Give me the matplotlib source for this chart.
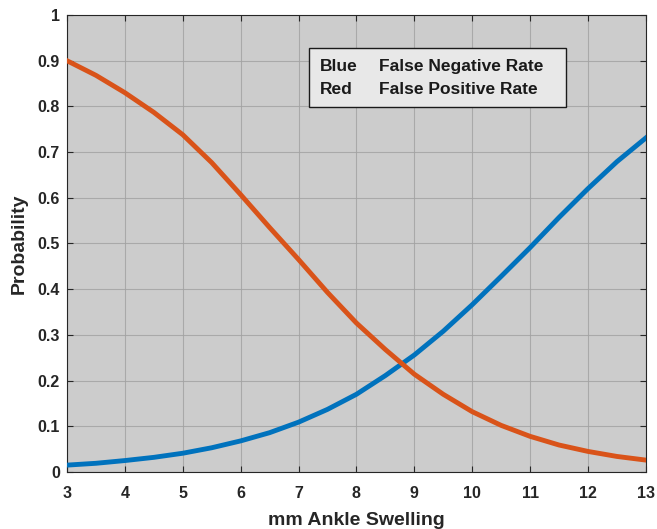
import matplotlib
matplotlib.use("Agg")
import matplotlib.pyplot as plt
from matplotlib.patches import Rectangle

plt.rcParams['font.family'] = ['Liberation Sans', 'DejaVu Sans']

swelling_mm = [3, 3.5, 4, 4.5, 5, 5.5, 6, 6.5, 7, 7.5, 8, 8.5, 9, 9.5, 10, 10.5, 11, 11.5, 12, 12.5, 13]
false_negative_rate = [0.015, 0.019, 0.025, 0.032, 0.041, 0.053, 0.068, 0.086, 0.109, 0.137, 0.170,
                       0.211, 0.256, 0.308, 0.366, 0.428, 0.491, 0.557, 0.620, 0.679, 0.731]
false_positive_rate = [0.900, 0.868, 0.830, 0.787, 0.738, 0.677, 0.607, 0.535, 0.465, 0.393, 0.326,
                       0.268, 0.214, 0.170, 0.132, 0.102, 0.078, 0.059, 0.045, 0.034, 0.026]
x_ticks = [3, 4, 5, 6, 7, 8, 9, 10, 11, 12, 13]
y_ticks = [0, 0.1, 0.2, 0.3, 0.4, 0.5, 0.6, 0.7, 0.8, 0.9, 1]
y_ticklabels = ['0', '0.1', '0.2', '0.3', '0.4', '0.5', '0.6', '0.7', '0.8', '0.9', '1']
box_rows = [('Blue', 'False Negative Rate'), ('Red', 'False Positive Rate')]

blue = (0.0, 0.447, 0.741)
red = (0.85, 0.325, 0.098)
textc = '#262626'

fig = plt.figure(figsize=(6.57, 5.29), dpi=100)
ax = fig.add_axes([0.102, 0.1078, 0.881, 0.8638])
ax.set_facecolor('#cccccc')

ax.plot(swelling_mm, false_negative_rate, color=blue, lw=3.5, zorder=3)
ax.plot(swelling_mm, false_positive_rate, color=red, lw=3.5, zorder=3)

ax.set_xlim(3, 13)
ax.set_ylim(0, 1)
ax.set_xticks(x_ticks)
ax.set_yticks(y_ticks)
ax.set_yticklabels(y_ticklabels)
ax.grid(True, color='#a3a3a3', lw=0.8, alpha=0.85)
ax.set_axisbelow(True)
ax.tick_params(direction='in', top=True, right=True, length=4, width=0.8,
               colors=textc, labelsize=11.5)
ax.tick_params(axis='x', pad=10)
ax.tick_params(axis='y', pad=5)
for lab in ax.get_xticklabels() + ax.get_yticklabels():
    lab.set_fontweight('bold')
for sp in ax.spines.values():
    sp.set_color(textc)
    sp.set_linewidth(0.8)

ax.set_xlabel('mm Ankle Swelling', fontsize=14, fontweight='bold', color=textc, labelpad=8)
ax.set_ylabel('Probability', fontsize=14, fontweight='bold', color=textc, labelpad=7)

# annotation box (pixel layout converted to data coords)
def px2x(px):
    return 3 + (px - 67) / 579 * 10

def py2y(py):
    return 1 - (py - 15) / 457

ax.add_patch(Rectangle((px2x(309.5), py2y(106.7)), px2x(565.7) - px2x(309.5),
                       py2y(48.3) - py2y(106.7), facecolor='#e8e8e8', edgecolor='#1a1a1a',
                       lw=1.0, zorder=4))
for (k, v), ypix in zip(box_rows, [66, 89]):
    ax.text(px2x(320), py2y(ypix), k, fontsize=12.5, fontweight='bold',
            color='#1a1a1a', va='center', ha='left', zorder=5)
    ax.text(px2x(379), py2y(ypix), v, fontsize=12.5, fontweight='bold',
            color='#1a1a1a', va='center', ha='left', zorder=5)

fig.savefig('out.png', dpi=100)
